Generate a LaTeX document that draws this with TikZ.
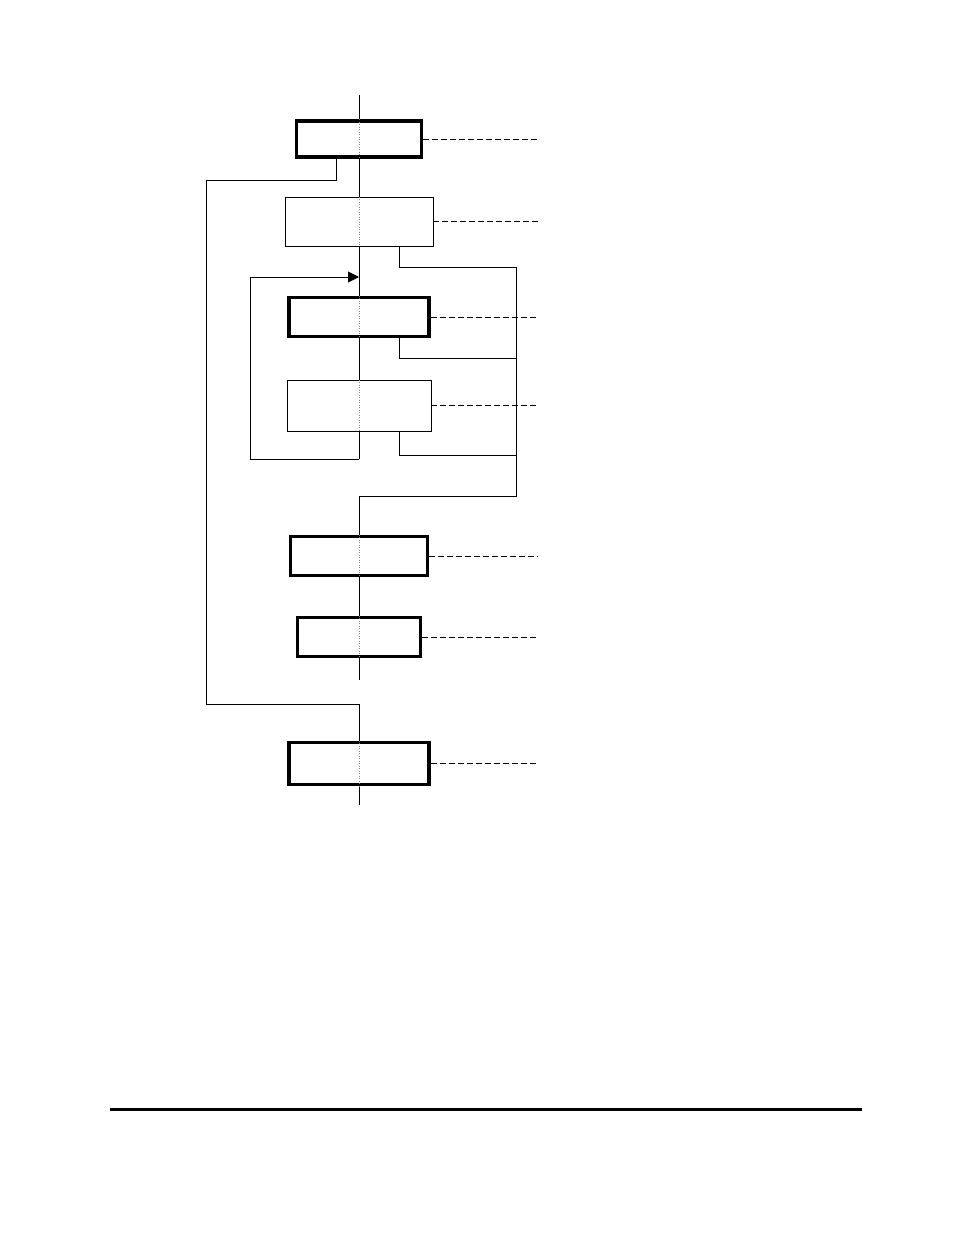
\documentclass[tikz,border=0pt]{standalone}
\usetikzlibrary{arrows.meta}
\begin{document}
\begin{tikzpicture}[x=1pt, y=-1pt, line width=0.9pt,
  thick box/.style={draw, line width=3.4pt, inner sep=0pt},
  thin box/.style={draw, line width=0.9pt, inner sep=0pt},
  lead/.style={dash pattern=on 6pt off 3pt, line width=1pt},
  inside/.style={dotted, line width=0.5pt, gray}]
\useasboundingbox (0,0) rectangle (954,1235);
% boxes on the spine
\node[thick box, minimum width=125pt, minimum height=36pt](1) at (359,139) {};
\node[thin box, minimum width=148pt, minimum height=49pt](2) at (359,221.5) {};
\node[thick box, minimum width=140pt, minimum height=39pt](3) at (359,317) {};
\node[thin box, minimum width=144pt, minimum height=51pt](4) at (359,405.5) {};
\node[thick box, minimum width=137pt, minimum height=39pt](5) at (359,556) {};
\node[thick box, minimum width=123pt, minimum height=39pt](6) at (359,637) {};
\node[thick box, minimum width=140pt, minimum height=42pt](7) at (359,763.5) {};
% free ends
\coordinate (top) at (359,95);
\coordinate (loopbot) at (359,459);
\coordinate (join) at (359,496);
\coordinate (end6) at (359,680);
\coordinate (ls) at (359,704);
\coordinate (bottom) at (359,805);
\coordinate (l1) at (336,158);
\coordinate (lc) at (206,180);
\coordinate (il) at (250,277);
\coordinate (ia) at (359,277);
\coordinate (r2) at (399,246);
\coordinate (r3) at (399,336);
\coordinate (r4) at (399,431);
\coordinate (rt) at (516,267);
\coordinate (r3e) at (516,358);
\coordinate (r4e) at (516,455);
\coordinate (rb) at (516,496);
\coordinate (le) at (538,0);
% spine
\draw (top) -- (1.north);
\draw (1.south) -- (2.north);
\draw (2.south) -- (3.north);
\draw (3.south) -- (4.north);
\draw (4.south) -- (loopbot);
\draw (join) -- (5.north);
\draw (5.south) -- (6.north);
\draw (6.south) -- (end6);
\draw (ls) -- (7.north);
\draw (7.south) -- (bottom);
\foreach \n in {1,...,7}
  \draw[inside] (\n.north) -- (\n.south);
% loops
\draw (l1) |- (lc) |- (ls);
\draw[-{Triangle[length=11pt, width=11pt]}] (loopbot) -| (il) -- (ia);
\draw (r2) |- (rt) -- (rb) -- (join);
\draw (r3) |- (r3e);
\draw (r4) |- (r4e);
% leaders
\foreach \n in {1,...,7}
  \draw[lead] (\n.east) -- (\n.east -| le);
% rule
\coordinate (rl) at (110,1109);
\coordinate (rr) at (862,1109);
\draw[line width=3pt] (rl) -- (rr);
\end{tikzpicture}
\end{document}
